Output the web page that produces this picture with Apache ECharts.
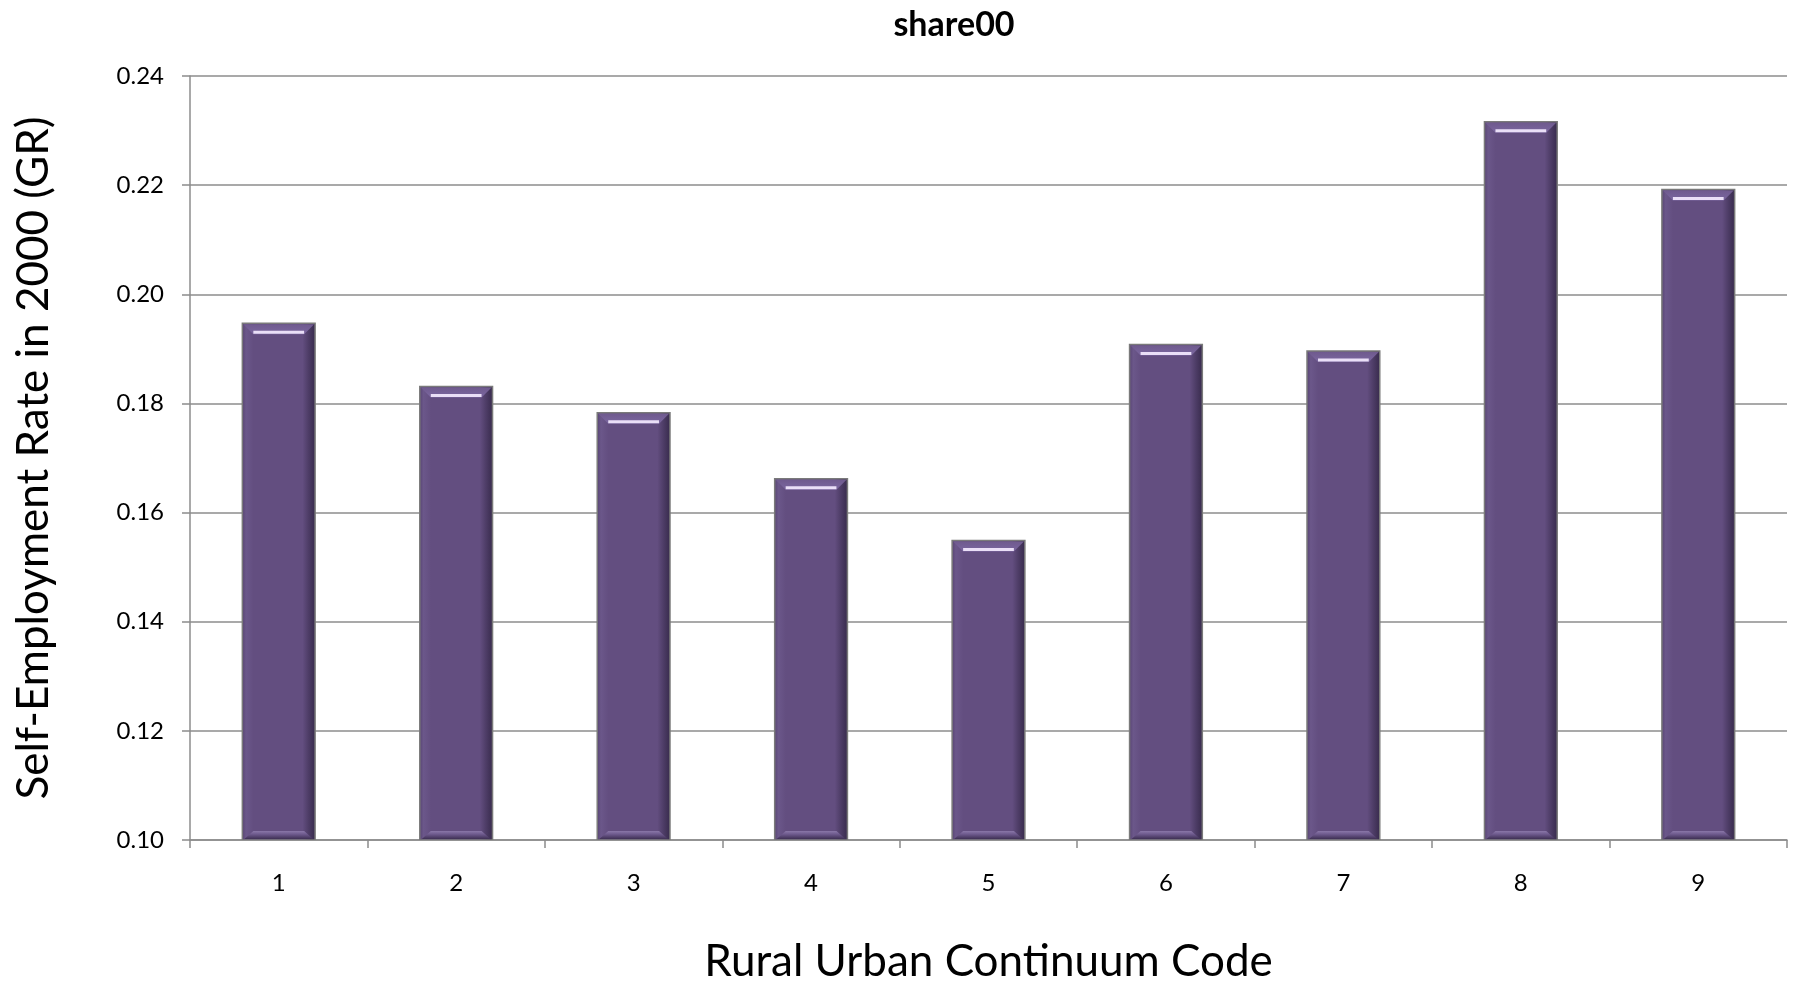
<!DOCTYPE html>
<html>
<head>
<meta charset="utf-8">
<title>share00</title>
<script src="https://cdn.jsdelivr.net/npm/echarts@6/dist/echarts.min.js"></script>
<style>
  html, body { margin: 0; padding: 0; background: #ffffff; }
  #chart { width: 1798px; height: 983px; }
</style>
</head>
<body>
<div id="chart"></div>
<script>
// Rural Urban Continuum Codes and their self-employment rates in 2000
const categories = ['1', '2', '3', '4', '5', '6', '7', '8', '9'];
const share00 = [0.1947, 0.1831, 0.1783, 0.1662, 0.1549, 0.1908, 0.1896, 0.2316, 0.2192];
const yTicks = { min: 0.10, max: 0.24, step: 0.02 };

const FONT = 'Lato, "Open Sans", sans-serif';
const GRID_COLOR = '#8c8c8c';
const BAR_WIDTH_RATIO = 0.41;

// Bevelled bar: body, darker right edge, lighter top bevel and a highlight stripe
function renderBevelBar(params, api) {
  const idx = api.value(0);
  const val = api.value(1);
  const top = api.coord([idx, val]);
  const base = api.coord([idx, yTicks.min]);
  const bandW = api.size([1, 0])[0];
  const w = bandW * BAR_WIDTH_RATIO;
  const x = top[0] - w / 2;
  const y = top[1];
  const h = base[1] - top[1];
  const bevel = 11;

  const body = {
    type: 'rect',
    shape: { x: x, y: y, width: w, height: h },
    style: {
      fill: new echarts.graphic.LinearGradient(0, 0, 1, 0, [
        { offset: 0, color: '#55426f' },
        { offset: 0.06, color: '#6b578a' },
        { offset: 0.16, color: '#634e80' },
        { offset: 0.82, color: '#634e80' },
        { offset: 0.9, color: '#4e3d67' },
        { offset: 1, color: '#36294a' }
      ]),
      stroke: '#7a7a7a',
      lineWidth: 1.5
    }
  };
  const topBevel = {
    type: 'polygon',
    shape: {
      points: [
        [x + 1, y + 1], [x + w - 1, y + 1],
        [x + w - bevel, y + bevel], [x + bevel, y + bevel]
      ]
    },
    style: {
      fill: new echarts.graphic.LinearGradient(0, 0, 0, 1, [
        { offset: 0, color: '#6f5a8e' },
        { offset: 1, color: '#7b67a0' }
      ])
    }
  };
  const highlight = {
    type: 'rect',
    shape: { x: x + bevel, y: y + bevel - 3.5, width: w - 2 * bevel, height: 3 },
    style: { fill: '#eadff7' }
  };
  const bottomBevel = {
    type: 'polygon',
    shape: {
      points: [
        [x + bevel, base[1] - bevel + 2], [x + w - bevel, base[1] - bevel + 2],
        [x + w - 2, base[1] - 1], [x + 2, base[1] - 1]
      ]
    },
    style: {
      fill: new echarts.graphic.LinearGradient(0, 0, 0, 1, [
        { offset: 0, color: '#8a77a8' },
        { offset: 0.4, color: '#6e5a8d' },
        { offset: 1, color: '#3f3055' }
      ])
    }
  };
  return { type: 'group', children: [body, topBevel, bottomBevel, highlight] };
}

const chart = echarts.init(document.getElementById('chart'), null, { renderer: 'canvas' });

chart.setOption({
  backgroundColor: '#ffffff',
  animation: false,
  title: {
    text: 'share00',
    left: 949,
    textAlign: 'center',
    top: 3,
    textStyle: { fontFamily: FONT, fontWeight: 'bold', fontSize: 34, color: '#000000' }
  },
  grid: { left: 190, right: 11, top: 76, bottom: 143, containLabel: false, outerBoundsMode: 'none' },
  xAxis: {
    type: 'category',
    data: categories,
    boundaryGap: true,
    name: 'Rural Urban Continuum Code',
    nameLocation: 'middle',
    nameGap: 100,
    nameTextStyle: { fontFamily: FONT, fontSize: 44, color: '#000000' },
    axisLine: { show: true, lineStyle: { color: GRID_COLOR, width: 1.5 } },
    axisTick: { show: true, alignWithLabel: false, length: 8, lineStyle: { color: GRID_COLOR, width: 1.5 } },
    axisLabel: { fontFamily: FONT, fontSize: 24, color: '#000000', margin: 31 },
    splitLine: { show: false }
  },
  yAxis: {
    type: 'value',
    min: yTicks.min,
    max: yTicks.max,
    interval: yTicks.step,
    name: 'Self-Employment Rate in 2000 (GR)',
    nameLocation: 'middle',
    nameGap: 134,
    nameTextStyle: { fontFamily: FONT, fontSize: 44, color: '#000000' },
    axisLine: { show: true, lineStyle: { color: GRID_COLOR, width: 1.5 } },
    axisTick: { show: true, length: 8, lineStyle: { color: GRID_COLOR, width: 1.5 } },
    axisLabel: {
      fontFamily: FONT, fontSize: 24, color: '#000000', margin: 26,
      formatter: v => v.toFixed(2)
    },
    splitLine: { show: true, lineStyle: { color: GRID_COLOR, width: 1.5 } }
  },
  series: [{
    type: 'custom',
    name: 'share00',
    renderItem: renderBevelBar,
    encode: { x: 0, y: 1 },
    data: share00.map((v, i) => [i, v]),
    clip: true
  }]
});
</script>
</body>
</html>
